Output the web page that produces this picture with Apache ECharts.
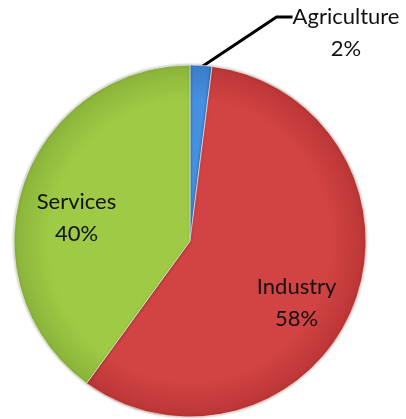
<!DOCTYPE html>
<html><head><meta charset="utf-8">
<script src="https://cdn.jsdelivr.net/npm/echarts@6/dist/echarts.min.js"></script>
<style>html,body{margin:0;padding:0;background:#fff}#c{width:406px;height:419px}</style>
</head><body><div id="c"></div>
<script>
const categories = ['Agriculture', 'Industry', 'Services'];
const shares = [2, 58, 40];
const sliceColors = [
  ['#4690e0', '#3a7cc8'],
  ['#d24343', '#bb3636'],
  ['#9fca45', '#8ab43a']
];
const CX = 190, CY = 241, R = 176;
function grad(c){
  return {type:'radial', x:CX, y:CY, r:R, global:true,
    colorStops:[{offset:0,color:c[0]},{offset:0.8,color:c[0]},{offset:1,color:c[1]}]};
}
const chart = echarts.init(document.getElementById('c'), null, {renderer:'canvas'});
const data = categories.map((n,i)=>({
  name:n, value:shares[i],
  itemStyle:{color:grad(sliceColors[i])},
  label: i===0 ? {position:'outside'} : {position:'inside'},
  labelLine: {show: i===0}
}));
chart.setOption({
  animation:false,
  series:[{
    type:'pie',
    center:[CX,CY],
    radius:R,
    startAngle:90,
    clockwise:true,
    data:data,
    itemStyle:{borderColor:'rgba(255,255,255,0.6)', borderWidth:1, shadowColor:'rgba(0,0,0,0.35)', shadowBlur:3},
    label:{
      formatter: p => p.name + '\n' + Math.round(p.percent) + '%',
      fontFamily:'Lato', fontSize:22, color:'#111', lineHeight:32, align:'center'
    },
    labelLine:{lineStyle:{color:'#000', width:3}, length:30, length2:15, smooth:false},
    labelLayout: function(p){
      if (p.dataIndex === 1) return {dx:22, dy:28};
      if (p.dataIndex === 2) return {dx:-27, dy:5};
      const w = p.labelRect.width, h = p.labelRect.height;
      const cx = 346, cy = 33;
      const left = cx - w/2, top = cy - h/2;
      const start = p.labelLinePoints ? p.labelLinePoints[0] : [200,65];
      const endY = top + h*0.25;
      return {
        x: cx, y: cy, align:'center', verticalAlign:'middle',
        labelLinePoints:[[start[0]-3, start[1]+4],[left-16, endY],[left, endY]]
      };
    }
  }]
});
</script></body></html>
